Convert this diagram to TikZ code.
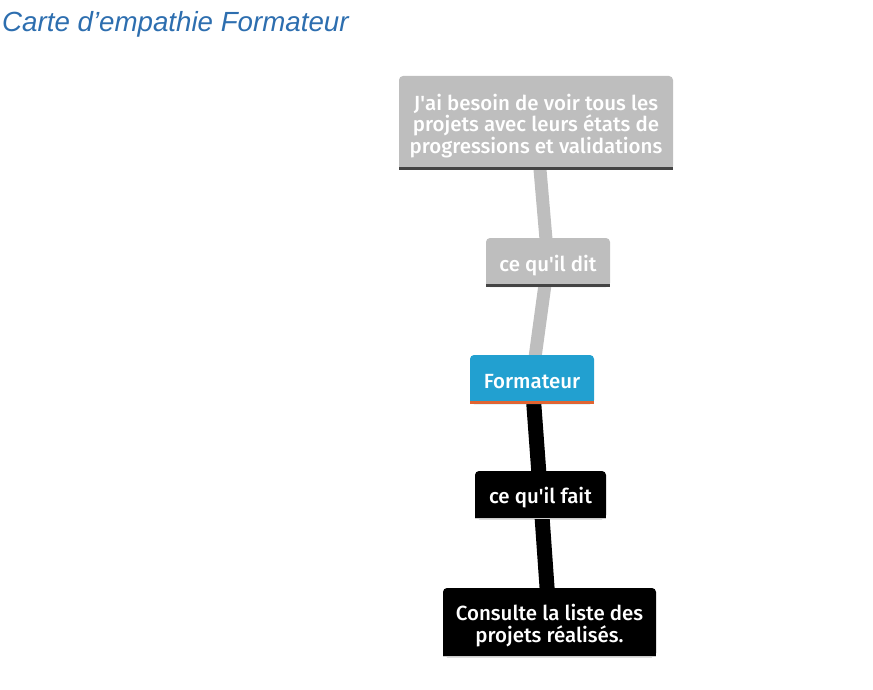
\documentclass[tikz,border=0pt]{standalone}
\usepackage{fontspec}
\setmainfont{Fira Sans}[UprightFont=* Medium]
\newfontfamily\titlefont{Liberation Sans}
\usetikzlibrary{backgrounds}
\definecolor{greybox}{RGB}{190,190,190}
\definecolor{greybar}{RGB}{68,68,68}
\definecolor{bluebox}{RGB}{34,160,208}
\definecolor{orangebar}{RGB}{224,100,50}
\definecolor{titleblue}{RGB}{45,110,175}
\definecolor{lightbar}{RGB}{205,205,205}

\begin{document}
\begin{tikzpicture}[x=1pt,y=-1pt,
  box/.style={rectangle, rounded corners=4pt, inner sep=0pt, align=center, text=white,
    font=\fontsize{20.5}{21.5}\selectfont, text height=22pt, text depth=5pt},
  greyline/.style={line width=13pt, draw=greybox},
  blackline/.style={line width=15pt, draw=black}]
\useasboundingbox (0,0) rectangle (873,690);

% Title
\node (title) [anchor=base west, inner sep=0pt, text=titleblue,
  font=\titlefont\itshape\fontsize{27.7}{30}\selectfont] at (2,32) {Carte d’empathie Formateur};

% Boxes
\node (dire) [box, fill=greybox, minimum width=274pt, minimum height=94pt, text height=65.5pt] at (536,123)
  {J\textquotesingle ai besoin de voir tous les\\projets avec leurs états de\\progressions et validations};
\node (dit) [box, fill=greybox, minimum width=124pt, minimum height=49pt] at (548,262.5) {ce qu\textquotesingle il dit};
\node (formateur) [box, fill=bluebox, minimum width=124pt, minimum height=49pt] at (532,379.5) {Formateur};
\node (fait) [box, fill=black, minimum width=131pt, minimum height=48pt] at (540.5,495) {ce qu\textquotesingle il fait};
\node (faire) [box, fill=black, minimum width=213pt, minimum height=69pt, text height=44pt] at (549.5,622.5)
  {Consulte la liste des\\projets réalisés.};

% Square bottom corners and bottom bars
\fill[greybox] ([yshift=3pt]dire.south west) rectangle ([yshift=8pt]dire.south east);
\fill[greybar] (dire.south west) rectangle ([yshift=3pt]dire.south east);
\fill[greybox] ([yshift=3pt]dit.south west) rectangle ([yshift=8pt]dit.south east);
\fill[greybar] (dit.south west) rectangle ([yshift=3pt]dit.south east);
\fill[bluebox] ([yshift=3pt]formateur.south west) rectangle ([yshift=8pt]formateur.south east);
\fill[orangebar] (formateur.south west) rectangle ([yshift=3pt]formateur.south east);
\fill[black] ([yshift=1pt]fait.south west) rectangle ([yshift=8pt]fait.south east);
\fill[lightbar] (fait.south west) rectangle ([yshift=1pt]fait.south east);
\fill[black] ([yshift=1pt]faire.south west) rectangle ([yshift=8pt]faire.south east);
\fill[lightbar] (faire.south west) rectangle ([yshift=1pt]faire.south east);

% Connections
\begin{pgfonlayer}{background}
\draw[greyline] (dire.center) -- (dit.center);
\draw[greyline] (dit.center) -- (formateur.center);
\draw[blackline] (formateur.center) -- (fait.center);
\draw[blackline] (fait.center) -- (faire.center);
\end{pgfonlayer}
\end{tikzpicture}
\end{document}
